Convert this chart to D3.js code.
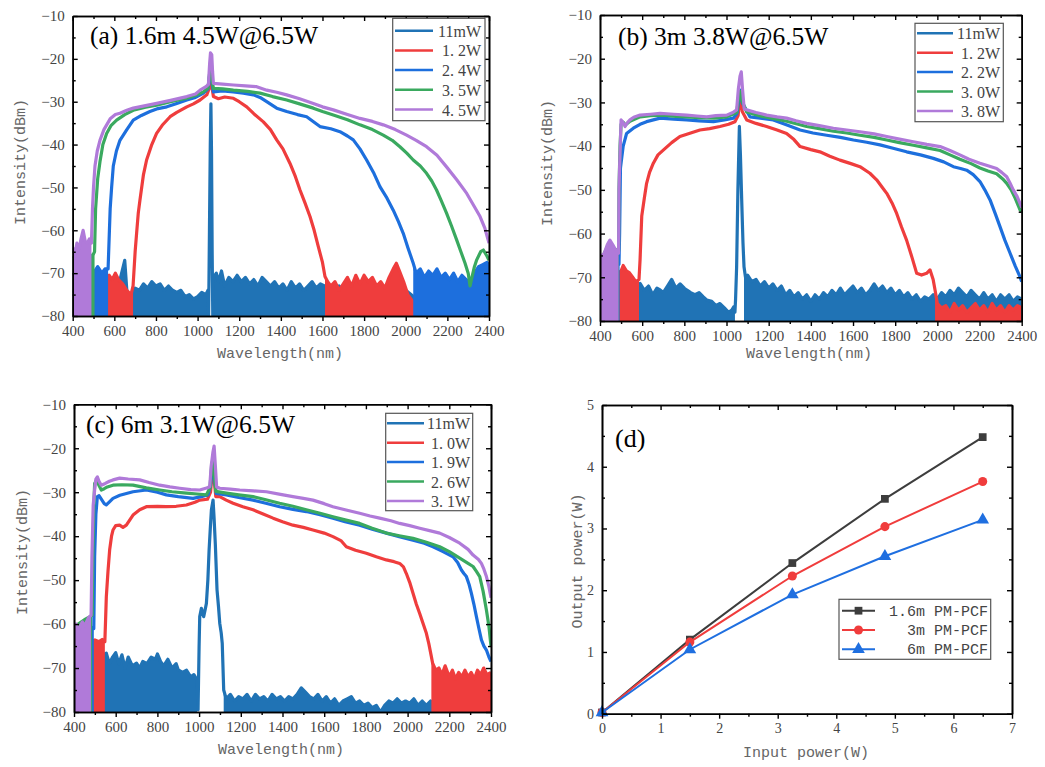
<!DOCTYPE html>
<html>
<head>
<meta charset="utf-8">
<script src="https://cdn.jsdelivr.net/npm/d3@7"></script>
<style>
body { margin: 0; background: #fff; }
text { font-family: "Liberation Serif", serif; }
.axis text { fill: #444; font-size: 15px; font-family: "Liberation Serif", serif; }
.axis path, .axis line { stroke: #000; }
.lab { font-family: "Liberation Mono", monospace; font-size: 15px; fill: #666; }
</style>
</head>
<body>
<svg id="fig" width="1045" height="767"></svg>
<script>
// ---------- data ----------
var specColors = ["#2073b5", "#ef3d3d", "#1d6fdd", "#3aa95f", "#b07ad9"];

// (a) 1.6m
var a_labels = ["11mW", "1. 2W", "2. 4W", "3. 5W", "4. 5W"];
var a_11mW = [[400,-74],[425,-76],[450,-73],[475,-75],[500,-74],[525,-72],[550,-74],[575,-73],[600,-75],[625,-72],[650,-67],[660,-74],[675,-76],[700,-73.5],[720,-74],[740,-72.5],[760,-73.5],[780,-72],[800,-73],[820,-72.5],[840,-74],[860,-73],[880,-74],[900,-74.5],[920,-74],[940,-75.5],[960,-75],[980,-76],[1000,-75.5],[1020,-74.5],[1040,-75],[1050,-74],
  [1053,-80],[1057,-60],[1061,-40],[1064,-30.5],[1067,-42],[1070,-65],[1073,-80],
  [1076,-71],[1090,-70],[1100,-72],[1115,-69.5],[1130,-73],[1150,-71],[1170,-72],[1190,-70.5],[1210,-72],[1230,-71],[1250,-72.5],[1270,-71.5],[1290,-73],[1310,-71],[1330,-72],[1350,-73],[1370,-72],[1390,-73.5],[1410,-72.5],[1430,-74],[1450,-72],[1470,-73.5],[1490,-72.5],[1510,-74],[1530,-73],[1550,-72],[1570,-73.5],[1590,-72.5],[1610,-73],[1640,-74],[1680,-73],[1720,-75],[1760,-74],[1800,-73],[1840,-75],[1880,-74],[1920,-76],[1960,-75],[2000,-74],[2050,-76],[2100,-75],[2150,-76],[2200,-75],[2250,-76],[2300,-75],[2350,-76],[2400,-75]];
var a_1p2W = [[400,-70],[430,-72],[460,-71],[490,-73],[520,-71],[550,-72],[575,-70.5],[590,-71.5],[605,-70],[620,-71.5],[640,-72.5],[660,-74],[680,-75],[690,-73],
  [700,-65],[707,-60.7],[715,-56],[723,-53],[740,-47],[755,-43.6],[780,-40],[803,-37.4],[830,-35.5],[868,-33.5],[900,-32.5],[948,-31.2],[980,-30.5],[1012,-29.6],[1044,-28.4],[1055,-27],[1062,-23],[1066,-22.6],[1070,-27],[1076,-28.8],[1100,-29.3],[1130,-28.9],[1172,-29.2],[1200,-30],[1236,-31.2],[1270,-32.8],[1316,-34.7],[1350,-36.5],[1380,-38.9],[1410,-41],[1444,-44.4],[1470,-47.5],[1492,-50.6],[1515,-53.5],[1540,-56.8],[1560,-60],[1580,-63.8],[1600,-67.5],[1612,-70.8],
  [1625,-72],[1640,-73],[1660,-72],[1680,-74],[1700,-72.5],[1720,-71],[1740,-73],[1760,-70.5],[1780,-72.5],[1800,-70.5],[1820,-72],[1840,-71],[1860,-73],[1880,-72],[1900,-73.5],[1920,-71],[1940,-69],[1955,-67.7],[1970,-69.5],[1990,-72],[2010,-75],[2040,-77],[2100,-76],[2200,-77],[2300,-74],[2330,-71],[2350,-70],[2370,-71.5],[2390,-70.5],[2400,-72]];
var a_2p4W = [[400,-70],[450,-72],[500,-70],[520,-68.5],[540,-70],[555,-69],[570,-69],
  [575,-62],[580,-55],[587,-50],[595,-45],[610,-41.5],[627,-39],[660,-36.5],[691,-34.3],[730,-33.2],[771,-32.3],[810,-31.6],[852,-31.2],[900,-30.4],[948,-29.6],[990,-29],[1028,-28],[1050,-27],[1062,-22],[1066,-21.5],[1070,-26],[1076,-27.7],[1120,-27.5],[1172,-27.7],[1220,-28],[1268,-28.4],[1300,-29],[1332,-30],[1380,-31.5],[1428,-32.3],[1480,-33],[1524,-33.5],[1560,-34.8],[1588,-35.8],[1640,-36.3],[1684,-37],[1720,-38],[1748,-38.9],[1780,-41],[1812,-43.6],[1845,-46.5],[1876,-49.8],[1910,-52.5],[1940,-55.3],[1965,-58],[1988,-60.7],[2010,-64],[2036,-67.7],
  [2050,-70],[2070,-69],[2090,-71],[2110,-69.5],[2130,-70.5],[2150,-69],[2170,-71],[2190,-70],[2210,-71.5],[2230,-70],[2250,-72],[2270,-70.5],[2290,-71.5],[2310,-72],[2330,-70],[2350,-68.5],[2370,-68],[2390,-67.5],[2400,-68]];
var a_3p5W = [[400,-66],[430,-67],[460,-65],[490,-66],[500,-65.5],[505,-65],
  [510,-55],[520,-48],[531,-44],[545,-40],[563,-37.4],[585,-35.5],[611,-34.3],[650,-33],[691,-32],[750,-31.3],[803,-30.8],[870,-30],[948,-29.2],[990,-28.5],[1028,-27.7],[1050,-26.8],[1062,-21.5],[1066,-21],[1070,-25],[1076,-26.9],[1120,-27],[1172,-27.3],[1240,-27.6],[1300,-28],[1360,-28.8],[1428,-29.6],[1490,-30.5],[1556,-31.5],[1600,-32.3],[1652,-33.1],[1720,-34.2],[1780,-35.4],[1840,-36.5],[1892,-37.8],[1935,-39],[1972,-40.5],[2005,-42],[2036,-43.6],[2070,-45],[2100,-46.7],[2125,-48.5],[2148,-50.6],[2170,-53],[2196,-56],[2220,-59],[2245,-62.3],[2265,-65],[2285,-67.7],[2300,-70],[2309,-73],[2318,-71],[2330,-68.5],[2341,-66.9],[2360,-65],[2373,-64.6],[2390,-66],[2400,-67]];
var a_4p5W = [[400,-64],[410,-66],[420,-63],[430,-64.5],[440,-62],[450,-60],[460,-62.5],[470,-63],[480,-62],[490,-63],
  [495,-55],[500,-50],[507,-45],[518,-41.5],[531,-39],[550,-36.5],[580,-34],[605,-33],[627,-32.7],[660,-32],[691,-31.5],[750,-30.9],[803,-30.4],[870,-29.7],[948,-28.8],[990,-28.2],[1012,-27.3],[1040,-26.5],[1052,-26],[1058,-21],[1062,-18.6],[1068,-19],[1072,-23],[1076,-25.7],[1120,-25.9],[1172,-26.1],[1230,-26.3],[1284,-26.5],[1332,-27.3],[1380,-27.8],[1428,-28.4],[1490,-29.3],[1556,-30.4],[1600,-31.2],[1652,-31.9],[1720,-33],[1780,-33.9],[1840,-34.6],[1892,-35.4],[1950,-36.5],[2004,-37.8],[2050,-39],[2100,-40.5],[2150,-42.5],[2196,-45.2],[2245,-48.2],[2293,-51.4],[2330,-54.5],[2357,-56.8],[2380,-59.5],[2400,-63]];
var a_noise = [[[400,1050],[1076,2400]], [[400,690],[1612,2400]], [[400,570],[2036,2400]], [[400,505]], [[400,490]]];

// (b) 3m
var b_labels = ["11mW", "1. 2W", "2. 2W", "3. 0W", "3. 8W"];
var b_11mW = [[400,-73],[450,-74],[500,-72],[550,-73],[590,-71.4],[610,-73],[630,-72],[650,-74],[670,-72.5],[685,-72.9],[700,-73.5],[720,-72],[740,-70.5],[760,-72.5],[780,-71.5],[800,-72.5],[811,-72.9],[830,-73.5],[850,-74],[870,-73.5],[890,-74.5],[906,-75.2],[930,-75.5],[950,-76.5],[969,-76],[990,-77],[1010,-78],[1025,-77.5],[1035,-76.7],[1040,-78],
  [1043,-75],[1048,-67.6],[1054,-50],[1061,-35.5],[1066,-42],[1072,-52.3],[1078,-62],[1083,-67.6],
  [1090,-70],[1100,-69.5],[1120,-71],[1140,-70.5],[1160,-72],[1180,-71],[1200,-72.5],[1220,-71.5],[1240,-73],[1260,-72],[1280,-74],[1300,-73],[1320,-74.5],[1340,-73.5],[1360,-75],[1380,-74],[1400,-75.5],[1420,-74],[1440,-75],[1460,-73.5],[1480,-74.5],[1500,-73],[1520,-74],[1540,-72.5],[1560,-74],[1580,-73],[1600,-72],[1620,-73.5],[1640,-72.5],[1660,-74],[1680,-73],[1700,-71.5],[1720,-73],[1740,-72],[1760,-73.5],[1780,-72.5],[1800,-74],[1820,-73],[1840,-74.5],[1860,-73.5],[1880,-75],[1900,-74],[1920,-75.5],[1940,-74.5],[1960,-75],[1980,-74],[2000,-75],[2020,-73.5],[2040,-74.5],[2060,-73],[2080,-74],[2100,-72.5],[2120,-73.5],[2140,-74.5],[2160,-73],[2180,-74],[2200,-75],[2220,-73.5],[2240,-75],[2260,-74],[2280,-75.5],[2300,-74],[2320,-75],[2340,-74],[2360,-75.5],[2380,-74.5],[2400,-75]];
var b_1p2W = [[400,-70],[450,-71],[490,-69],[500,-68.5],[510,-67.3],[525,-68.5],[540,-69],[555,-70],[570,-71],[585,-70.5],
  [590,-66],[598,-56],[610,-52],[621,-48.5],[635,-46],[653,-43.9],[675,-42],[700,-40.9],[740,-39.2],[779,-37.8],[830,-37],[874,-36.3],[920,-36],[969,-35.5],[1010,-35],[1040,-34.4],[1055,-33],[1062,-29.5],[1068,-29],[1074,-32],[1096,-34],[1140,-34.8],[1190,-35.5],[1240,-36.3],[1285,-37.1],[1320,-38.5],[1349,-40.1],[1400,-40.8],[1443,-41.3],[1490,-42.3],[1538,-43.2],[1590,-44],[1633,-44.7],[1680,-46.2],[1712,-47.7],[1740,-49.5],[1760,-50.8],[1785,-53],[1807,-55.4],[1830,-58.5],[1854,-61.5],[1880,-65.5],[1902,-69.1],[1925,-69.5],[1949,-69.1],[1965,-68.3],[1980,-70.5],[1989,-72.9],
  [2000,-76],[2020,-77],[2040,-76.5],[2060,-78],[2080,-76],[2100,-77.5],[2120,-76.5],[2140,-78],[2160,-77],[2180,-76],[2200,-77.5],[2220,-76.5],[2240,-78],[2260,-76],[2280,-77.5],[2300,-76.5],[2320,-78],[2340,-76.5],[2360,-77.5],[2380,-76.5],[2400,-77]];
var b_2p2W = [[400,-68],[450,-66],[490,-67],[493,-60],
  [497,-45],[510,-40],[526,-37.1],[558,-35.9],[590,-35],[621,-34.4],[685,-33.6],[750,-33.8],[811,-34],[870,-34.2],[938,-34.4],[990,-34],[1032,-33.6],[1050,-32.5],[1062,-28],[1068,-27.2],[1074,-30],[1111,-33.3],[1160,-33.6],[1222,-34],[1290,-35.2],[1349,-36.3],[1410,-37],[1475,-37.5],[1540,-38],[1602,-38.6],[1665,-39.1],[1728,-39.7],[1790,-40.5],[1854,-41.3],[1920,-42],[1981,-42.8],[2030,-43.6],[2076,-44.7],[2110,-45.1],[2139,-45.5],[2170,-46.5],[2202,-48.1],[2225,-50],[2250,-52.3],[2275,-55.5],[2297,-58.4],[2320,-61.5],[2345,-64.5],[2370,-67.5],[2392,-69.9],[2400,-71]];
var b_3p0W = [[400,-66],[420,-64.5],[447,-62],[470,-63.5],[488,-64],
  [490,-50],[495,-40],[500,-35],[510,-34.5],[519,-35.2],[542,-34.3],[590,-33.3],[640,-33],[700,-32.9],[760,-33.2],[811,-33.3],[870,-33.5],[940,-33.6],[1001,-33.3],[1048,-32.3],[1060,-28],[1066,-27.5],[1072,-29.5],[1096,-32.2],[1150,-33],[1190,-33.4],[1285,-34.3],[1380,-35.5],[1440,-36],[1507,-36.6],[1570,-37],[1633,-37.5],[1700,-38],[1760,-38.6],[1820,-39.2],[1886,-39.8],[1950,-40.4],[2013,-41],[2060,-42],[2107,-43],[2160,-44],[2202,-45],[2240,-45.7],[2281,-46.3],[2310,-47.5],[2329,-48.5],[2350,-50],[2370,-52],[2392,-54.6],[2400,-55]];
var b_3p8W = [[400,-67],[410,-65],[420,-64.5],[435,-62.5],[447,-61.5],[460,-62.5],[470,-63.4],[480,-64],[488,-64.5],
  [490,-50],[493,-44.7],[500,-34],[508,-34.5],[519,-35.5],[530,-34.6],[542,-34],[560,-33.4],[590,-32.9],[640,-32.7],[685,-32.5],[750,-32.7],[811,-32.9],[860,-33.1],[906,-33.3],[950,-33],[1001,-32.9],[1030,-32.3],[1048,-31.7],[1056,-27],[1064,-24],[1070,-23],[1076,-27],[1084,-31.5],[1096,-31.7],[1140,-32.3],[1190,-32.9],[1240,-33.3],[1285,-33.6],[1330,-34.2],[1380,-34.8],[1440,-35.3],[1507,-35.9],[1570,-36.3],[1633,-36.7],[1700,-37.2],[1760,-37.8],[1820,-38.4],[1886,-39],[1950,-39.6],[2013,-40.1],[2060,-41],[2107,-42],[2150,-43],[2202,-43.9],[2240,-44.5],[2281,-45.1],[2305,-46],[2329,-47],[2345,-48.5],[2360,-50],[2378,-51.5],[2392,-53.1],[2400,-54]];
var b_noise = [[[400,1040],[1083,2400]], [[400,585],[1989,2400]], [[400,493]], [[400,488]], [[400,488]]];

// (c) 6m
var c_labels = ["11mW", "1. 0W", "1. 9W", "2. 6W", "3. 1W"];
var c_11mW = [[400,-70],[450,-68],[500,-67],[520,-69],[540,-67],[555,-66.6],[570,-69],[585,-67.5],[600,-66.5],[615,-69],[630,-67],[645,-70],[660,-67.5],[680,-69.5],[700,-68.9],[715,-70],[730,-68.5],[750,-69],[770,-67.5],[790,-68],[800,-66.8],[815,-68.5],[830,-69.5],[850,-68],[870,-70],[890,-69],[900,-70.4],[920,-71],[940,-70.5],[960,-72],[975,-71.5],[990,-72.7],
  [995,-79.5],[1000,-65],[1003,-58.3],[1011,-56.4],[1017,-57.5],[1022,-58.3],[1030,-56.5],[1035,-55.3],[1042,-50],[1048,-43.1],[1054,-38],[1059,-34],[1067,-31.8],[1072,-36],[1078,-42],[1086,-52.2],[1093,-56],[1099,-59.8],[1106,-62],[1111,-64.4],[1118,-75],
  [1130,-77],[1150,-76],[1170,-77.5],[1190,-76.5],[1210,-77],[1230,-76],[1250,-77.5],[1270,-76],[1290,-77],[1310,-76.5],[1330,-77.5],[1350,-76],[1370,-77],[1390,-76.5],[1410,-77.5],[1430,-76.5],[1450,-77],[1470,-76],[1490,-74.5],[1510,-75.5],[1530,-76.5],[1550,-77],[1570,-76],[1590,-77.5],[1610,-76.5],[1630,-78],[1650,-77],[1670,-78.5],[1690,-77.5],[1710,-77],[1730,-76.5],[1750,-78],[1770,-77.5],[1790,-78.5],[1810,-78],[1830,-79],[1850,-78.5],[1870,-80],[1890,-78.5],[1910,-77.5],[1930,-78],[1950,-77],[1970,-78],[1990,-77.5],[2010,-78],[2030,-77],[2050,-78.5],[2070,-77.5],[2090,-78.5],[2110,-77.5],[2150,-79],[2200,-78.5],[2250,-79],[2300,-78.5],[2350,-79],[2400,-78.5]];
var c_1p0W = [[400,-62],[450,-61],[490,-64],[500,-63.6],[520,-64],[535,-63.5],[548,-64],
  [552,-58.3],[555,-53.8],[563,-48],[571,-43.1],[580,-40],[587,-38.6],[600,-37.6],[619,-37.5],[635,-38],[651,-37.5],[683,-35.2],[715,-34],[747,-33.3],[800,-33.2],[843,-33.3],[890,-33.2],[939,-32.9],[980,-32.3],[1003,-31.8],[1040,-31.6],[1055,-30],[1062,-26],[1068,-25.7],[1074,-28],[1080,-31],[1099,-31],[1130,-31.8],[1163,-32.5],[1210,-33.3],[1259,-34],[1310,-35],[1355,-35.9],[1400,-36.7],[1450,-37.5],[1500,-38],[1546,-38.6],[1600,-39.3],[1642,-40.1],[1680,-41],[1706,-42.4],[1750,-43.2],[1802,-43.9],[1850,-44.7],[1898,-45.4],[1935,-45.8],[1962,-46.2],[1980,-47],[1994,-48.5],[2010,-50.5],[2026,-53],[2042,-55.5],[2058,-57.6],[2075,-60],[2090,-62.1],[2102,-64.5],[2114,-67.4],
  [2120,-68.9],[2135,-70.5],[2150,-70],[2165,-71.5],[2180,-69.5],[2200,-72],[2215,-70.5],[2230,-72.5],[2245,-71],[2260,-72],[2275,-70.5],[2290,-72],[2305,-71],[2320,-72.5],[2335,-70.5],[2350,-71.5],[2365,-70],[2380,-71.5],[2400,-71]];
var c_1p9W = [[400,-62],[450,-60],[495,-61],
  [499,-44.7],[505,-35],[512,-31],[520,-30.8],[531,-31.6],[545,-32.6],[555,-32.9],[570,-32.2],[587,-31.4],[620,-30.7],[683,-29.9],[747,-29.5],[800,-30],[843,-30.6],[900,-31],[971,-31.4],[1010,-31],[1043,-30.6],[1055,-28.5],[1062,-25],[1068,-24.2],[1074,-27],[1082,-30.3],[1131,-30.6],[1190,-31.2],[1259,-31.8],[1320,-32.5],[1386,-33.3],[1450,-33.9],[1514,-34.4],[1580,-35.1],[1642,-35.9],[1700,-36.7],[1770,-37.5],[1830,-38.4],[1898,-39.3],[1960,-40.1],[2026,-40.9],[2080,-41.6],[2122,-42.4],[2170,-43.5],[2218,-44.7],[2240,-46],[2258,-47.7],[2270,-48.5],[2282,-49.2],[2295,-51],[2306,-53],[2318,-55.5],[2330,-58.3],[2342,-61],[2354,-63.6],[2366,-65],[2378,-65.9],[2390,-67.5],[2400,-68.5]];
var c_2p6W = [[400,-61],[420,-60],[450,-59],[470,-58.5],[487,-58],
  [490,-45],[495,-33],[499,-28],[505,-27.5],[512,-27.6],[520,-28.5],[531,-29.5],[545,-29.2],[560,-28.8],[587,-28.4],[630,-28.3],[683,-28.4],[747,-29],[811,-29.5],[870,-29.9],[939,-30.2],[990,-30.4],[1035,-30.6],[1052,-29],[1060,-24],[1066,-22.5],[1072,-26],[1080,-29.8],[1131,-30.2],[1190,-30.6],[1259,-31],[1320,-31.7],[1386,-32.5],[1450,-33.2],[1514,-34],[1580,-34.8],[1642,-35.6],[1700,-36.3],[1770,-37.1],[1830,-38.2],[1898,-39.3],[1960,-39.9],[2026,-40.5],[2090,-41.4],[2154,-42.4],[2200,-43.5],[2250,-45],[2290,-46.2],[2314,-46.9],[2330,-48],[2346,-49.2],[2362,-52.5],[2378,-56.8],[2390,-60.5],[2400,-65]];
var c_3p1W = [[400,-61.3],[410,-60],[420,-61.5],[430,-60.5],[440,-59.5],[450,-60.5],[460,-59.5],[470,-58.5],[482,-58],
  [486,-45],[492,-33],[499,-29.5],[505,-27],[512,-26.5],[520,-27.5],[531,-28.4],[550,-28],[570,-27.5],[587,-27.2],[619,-26.8],[660,-27],[715,-27.2],[760,-27.8],[811,-28.4],[860,-28.8],[907,-29.1],[960,-29.4],[1003,-29.5],[1040,-29],[1051,-28.7],[1058,-24],[1066,-21],[1072,-19.5],[1078,-24],[1084,-28.8],[1099,-29.1],[1150,-29.3],[1195,-29.5],[1260,-29.7],[1323,-29.9],[1390,-30.5],[1450,-31],[1500,-31.4],[1546,-31.8],[1600,-32.6],[1642,-33.3],[1700,-34],[1770,-34.8],[1820,-35.4],[1866,-35.9],[1920,-36.5],[1962,-37.1],[2010,-37.6],[2058,-38.2],[2110,-38.8],[2154,-39.3],[2200,-40.3],[2250,-41.6],[2290,-43],[2314,-44.3],[2340,-45.3],[2354,-46.2],[2366,-47.5],[2378,-49.2],[2390,-51.5],[2400,-54]];
var c_noise = [[[400,990],[1118,2400]], [[400,548],[2114,2400]], [[400,495]], [[400,487]], [[400,482]]];

// (d) output vs input power
var inputPower = [0, 1.5, 3.25, 4.83, 6.5];
var out1p6m = [0.02, 1.2, 2.44, 3.48, 4.48];
var out3m = [0.02, 1.16, 2.23, 3.03, 3.76];
var out6m = [0.02, 1.04, 1.93, 2.55, 3.14];
var d_labels = ["1.6m PM-PCF", "3m PM-PCF", "6m PM-PCF"];
var d_colors = ["#3d3d3d", "#f03c3c", "#1f6fe0"];

// ---------- drawing ----------
var svg = d3.select("#fig");

function frameAxes(g, x, y, xTicks, xMinor, yTicks, yMinor, fmtX, fmtY, w, h) {
  // bottom: ticks outward with labels
  g.append("g").attr("class", "axis").attr("transform", "translate(0," + h + ")")
    .call(d3.axisBottom(x).tickValues(xTicks).tickSize(5).tickSizeOuter(0).tickPadding(4).tickFormat(fmtX));
  g.append("g").attr("class", "axis").attr("transform", "translate(0," + h + ")")
    .call(d3.axisBottom(x).tickValues(xMinor).tickSize(3).tickSizeOuter(0).tickFormat(""));
  // left: ticks inward with labels
  g.append("g").attr("class", "axis")
    .call(d3.axisLeft(y).tickValues(yTicks).tickSize(-5).tickSizeOuter(0).tickPadding(8).tickFormat(fmtY));
  g.append("g").attr("class", "axis")
    .call(d3.axisLeft(y).tickValues(yMinor).tickSize(-3).tickSizeOuter(0).tickFormat(""));
  // top and right mirrors, ticks inward
  g.append("g").attr("class", "axis")
    .call(d3.axisTop(x).tickValues(xTicks).tickSize(-5).tickSizeOuter(0).tickFormat(""));
  g.append("g").attr("class", "axis")
    .call(d3.axisTop(x).tickValues(xMinor).tickSize(-3).tickSizeOuter(0).tickFormat(""));
  g.append("g").attr("class", "axis").attr("transform", "translate(" + w + ",0)")
    .call(d3.axisRight(y).tickValues(yTicks).tickSize(-5).tickSizeOuter(0).tickFormat(""));
  g.append("g").attr("class", "axis").attr("transform", "translate(" + w + ",0)")
    .call(d3.axisRight(y).tickValues(yMinor).tickSize(-3).tickSizeOuter(0).tickFormat(""));
  g.selectAll(".axis path.domain").attr("stroke-width", 1.6);
  g.selectAll(".axis .tick line").attr("stroke-width", 1.4);
}

function spectrum(id, box, series, noise, labels, title, leg) {
  var w = box.x1 - box.x0, h = box.y1 - box.y0;
  var g = svg.append("g").attr("transform", "translate(" + box.x0 + "," + box.y0 + ")");
  var x = d3.scaleLinear().domain([400, 2400]).range([0, w]);
  var y = d3.scaleLinear().domain([-80, -10]).range([h, 0]);

  g.append("clipPath").attr("id", "clip" + id).append("rect").attr("width", w).attr("height", h);
  var plot = g.append("g").attr("clip-path", "url(#clip" + id + ")");

  var area = d3.area().x(function(d) { return x(d[0]); }).y0(y(-80)).y1(function(d) { return y(d[1]); });
  var line = d3.line().x(function(d) { return x(d[0]); }).y(function(d) { return y(d[1]); });

  series.forEach(function(pts, i) {
    noise[i].forEach(function(s) {
      var seg = pts.filter(function(p) { return p[0] >= s[0] && p[0] <= s[1]; });
      plot.append("path").datum(seg).attr("d", area).attr("fill", specColors[i]);
    });
    plot.append("path").datum(pts).attr("d", line)
      .attr("fill", "none").attr("stroke", specColors[i])
      .attr("stroke-width", 3.2).attr("stroke-linejoin", "round");
  });

  frameAxes(g, x, y, d3.range(400, 2401, 200), d3.range(500, 2400, 200),
    d3.range(-80, -9, 10), d3.range(-75, -10, 10), d3.format("d"), d3.format("d"), w, h);

  g.append("text").attr("x", title.x - box.x0).attr("y", title.y - box.y0)
    .attr("font-size", "25.5px").attr("fill", "#000").text(title.text);

  // legend
  var lg = svg.append("g");
  lg.append("rect").attr("x", leg.x0).attr("y", leg.y0)
    .attr("width", leg.x1 - leg.x0).attr("height", leg.y1 - leg.y0)
    .attr("fill", "#fff").attr("stroke", "#555").attr("stroke-width", 1.2);
  labels.forEach(function(t, i) {
    var ry = leg.row0 + i * leg.step;
    lg.append("line").attr("x1", leg.lx0).attr("x2", leg.lx1).attr("y1", ry).attr("y2", ry)
      .attr("stroke", specColors[i]).attr("stroke-width", 2.5);
    lg.append("text").attr("x", leg.tx).attr("y", ry + 6).attr("text-anchor", "end")
      .attr("font-size", "16px").attr("fill", "#444").text(t);
  });

  // axis titles
  svg.append("text").attr("class", "lab").attr("text-anchor", "middle")
    .attr("transform", "translate(" + leg.ylab[0] + "," + leg.ylab[1] + ") rotate(-90)")
    .text("Intensity(dBm)");
  svg.append("text").attr("class", "lab").attr("text-anchor", "middle")
    .attr("x", leg.xlab[0]).attr("y", leg.xlab[1]).text("Wavelength(nm)");
}

spectrum("a", {x0: 72.7, x1: 489, y0: 16, y1: 316},
  [a_11mW, a_1p2W, a_2p4W, a_3p5W, a_4p5W], a_noise, a_labels,
  {x: 90, y: 44, text: "(a) 1.6m 4.5W@6.5W"},
  {x0: 392.7, x1: 485, y0: 18.3, y1: 120.7, row0: 30.7, step: 19.7, lx0: 395, lx1: 433, tx: 481,
   ylab: [25, 162], xlab: [280, 358]});

spectrum("b", {x0: 600, x1: 1021.7, y0: 15, y1: 321},
  [b_11mW, b_1p2W, b_2p2W, b_3p0W, b_3p8W], b_noise, b_labels,
  {x: 618, y: 45, text: "(b) 3m 3.8W@6.5W"},
  {x0: 915, x1: 1003.3, y0: 23.3, y1: 121.7, row0: 33.3, step: 19.4, lx0: 917, lx1: 953, tx: 1000,
   ylab: [552, 163], xlab: [809, 358]});

spectrum("c", {x0: 74, x1: 491, y0: 404.3, y1: 712},
  [c_11mW, c_1p0W, c_1p9W, c_2p6W, c_3p1W], c_noise, c_labels,
  {x: 86, y: 433, text: "(c) 6m 3.1W@6.5W"},
  {x0: 385.7, x1: 472.7, y0: 413.3, y1: 510.7, row0: 423.3, step: 19.4, lx0: 387, lx1: 424, tx: 470,
   ylab: [27, 552], xlab: [281, 754]});

// ---------- panel (d) ----------
(function() {
  var box = {x0: 602, x1: 1012, y0: 405, y1: 713.7};
  var w = box.x1 - box.x0, h = box.y1 - box.y0;
  var g = svg.append("g").attr("transform", "translate(" + box.x0 + "," + box.y0 + ")");
  var x = d3.scaleLinear().domain([0, 7]).range([0, w]);
  var y = d3.scaleLinear().domain([0, 5]).range([h, 0]);
  var series = [out1p6m, out3m, out6m];
  var symbols = [d3.symbolSquare, d3.symbolCircle, d3.symbolTriangle];
  var sizes = [60, 64, 70];

  var line = d3.line().x(function(d, i) { return x(inputPower[i]); }).y(function(d) { return y(d); });
  series.forEach(function(s, k) {
    g.append("path").datum(s).attr("d", line).attr("fill", "none")
      .attr("stroke", d_colors[k]).attr("stroke-width", 2);
    g.selectAll(".m" + k).data(s).enter().append("path")
      .attr("transform", function(d, i) { return "translate(" + x(inputPower[i]) + "," + y(d) + ")"; })
      .attr("d", d3.symbol().type(symbols[k]).size(sizes[k]))
      .attr("fill", d_colors[k]);
  });

  frameAxes(g, x, y, d3.range(0, 8, 1), d3.range(0.5, 7, 1), d3.range(0, 6, 1), d3.range(0.5, 5, 1),
    d3.format("d"), d3.format("d"), w, h);
  g.selectAll(".axis text").attr("fill", "#555").style("font-size", "14px");

  g.append("text").attr("x", 615 - box.x0).attr("y", 447 - box.y0)
    .attr("font-size", "26px").attr("fill", "#000").text("(d)");

  var lg = svg.append("g");
  lg.append("rect").attr("x", 839).attr("y", 599.3).attr("width", 151.7).attr("height", 60)
    .attr("fill", "#fff").attr("stroke", "#555").attr("stroke-width", 1.2);
  d_labels.forEach(function(t, k) {
    var ry = 610.7 + k * 19.3;
    lg.append("line").attr("x1", 842).attr("x2", 875).attr("y1", ry).attr("y2", ry)
      .attr("stroke", d_colors[k]).attr("stroke-width", 2);
    lg.append("path").attr("transform", "translate(858.5," + ry + ")")
      .attr("d", d3.symbol().type(symbols[k]).size(sizes[k])).attr("fill", d_colors[k]);
    lg.append("text").attr("class", "lab").attr("x", 988).attr("y", ry + 5)
      .attr("text-anchor", "end").style("fill", "#444").text(t);
  });

  svg.append("text").attr("class", "lab").attr("text-anchor", "middle")
    .attr("transform", "translate(582,561) rotate(-90)").text("Output power(W)");
  svg.append("text").attr("class", "lab").attr("text-anchor", "middle")
    .attr("x", 806).attr("y", 757).text("Input power(W)");
})();
</script>
</body>
</html>
